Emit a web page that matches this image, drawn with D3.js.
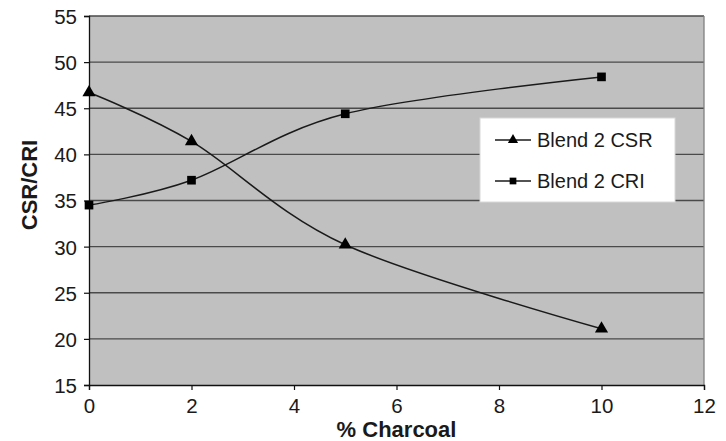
<!DOCTYPE html>
<html>
<head>
<meta charset="utf-8">
<script src="https://cdn.jsdelivr.net/npm/d3@7"></script>
<style>
  html, body { margin: 0; padding: 0; background: #fff; }
  svg { display: block; font-family: "Liberation Sans", Arial, sans-serif; }
</style>
</head>
<body>
<svg id="chart" width="726" height="441"></svg>
<script>
// Charcoal content (%) and the two measured coke properties
const charcoal = [0, 2, 5, 10];
const csr = [46.7, 41.4, 30.2, 21.1];
const cri = [34.5, 37.2, 44.4, 48.4];
const xTicks = [0, 2, 4, 6, 8, 10, 12];
const yTicks = [15, 20, 25, 30, 35, 40, 45, 50, 55];
const seriesNames = ["Blend 2 CSR", "Blend 2 CRI"];

const svg = d3.select("#chart");
const plot = { left: 89, top: 16, right: 704, bottom: 385 };

const x = d3.scaleLinear().domain([0, 12]).range([plot.left, plot.right]);
const y = d3.scaleLinear().domain([15, 55]).range([plot.bottom, plot.top]);

// plot background
svg.append("rect")
  .attr("x", plot.left).attr("y", plot.top)
  .attr("width", plot.right - plot.left).attr("height", plot.bottom - plot.top)
  .attr("fill", "#c0c0c0");

// horizontal gridlines
svg.append("g").selectAll("line")
  .data(yTicks.filter(d => d > 15))
  .join("line")
  .attr("x1", plot.left).attr("x2", plot.right)
  .attr("y1", d => y(d)).attr("y2", d => y(d))
  .attr("stroke", "#4a4a4a").attr("stroke-width", 1.3);

// right border of the plot area
svg.append("line")
  .attr("x1", plot.right).attr("x2", plot.right)
  .attr("y1", plot.top).attr("y2", plot.bottom)
  .attr("stroke", "#808080").attr("stroke-width", 1.3);

// axes
const xAxis = d3.axisBottom(x).tickValues(xTicks).tickSize(5).tickPadding(8);
const yAxis = d3.axisLeft(y).tickValues(yTicks).tickSize(5).tickPadding(7);

const gx = svg.append("g").attr("transform", `translate(0,${plot.bottom})`).call(xAxis);
const gy = svg.append("g").attr("transform", `translate(${plot.left},0)`).call(yAxis);
[gx, gy].forEach(g => {
  g.select(".domain").attr("stroke", "#111").attr("stroke-width", 1.3);
  g.selectAll(".tick line").attr("stroke", "#111").attr("stroke-width", 1.2);
  g.selectAll(".tick text")
    .attr("fill", "#1a1a1a")
    .style("font-family", "'Liberation Sans', Arial, sans-serif")
    .style("font-size", "20.5px");
});
gy.selectAll(".tick text").attr("dy", "0.36em");

// axis titles
svg.append("text")
  .attr("x", (plot.left + plot.right) / 2).attr("y", 437)
  .attr("text-anchor", "middle")
  .attr("font-size", 22).attr("font-weight", "bold").attr("fill", "#1a1a1a")
  .text("% Charcoal");

svg.append("text")
  .attr("transform", "translate(37,185) rotate(-90)")
  .attr("text-anchor", "middle")
  .attr("font-size", 22).attr("font-weight", "bold").attr("fill", "#1a1a1a")
  .text("CSR/CRI");

// smoothed series lines
const line = d3.line()
  .x(d => x(d[0])).y(d => y(d[1]))
  .curve(d3.curveCatmullRom.alpha(0));

const csrPts = charcoal.map((c, i) => [c, csr[i]]);
const criPts = charcoal.map((c, i) => [c, cri[i]]);

[csrPts, criPts].forEach(pts => {
  svg.append("path")
    .attr("d", line(pts))
    .attr("fill", "none")
    .attr("stroke", "#1a1a1a")
    .attr("stroke-width", 1.5);
});

const tri = d3.symbol().type(d3.symbolTriangle).size(75);
const sq = d3.symbol().type(d3.symbolSquare).size(75);

svg.append("g").selectAll("path")
  .data(csrPts).join("path")
  .attr("transform", d => `translate(${x(d[0])},${y(d[1])})`)
  .attr("d", tri).attr("fill", "#000");

svg.append("g").selectAll("path")
  .data(criPts).join("path")
  .attr("transform", d => `translate(${x(d[0])},${y(d[1])})`)
  .attr("d", sq).attr("fill", "#000");

// legend
const legend = svg.append("g");
legend.append("rect")
  .attr("x", 480).attr("y", 118).attr("width", 195).attr("height", 84)
  .attr("fill", "#fff").attr("stroke", "#d8d8d8").attr("stroke-width", 1);

const symbols = [d3.symbol().type(d3.symbolTriangle).size(45), d3.symbol().type(d3.symbolSquare).size(45)];
seriesNames.forEach((name, i) => {
  const cy = 140 + i * 41;
  legend.append("line")
    .attr("x1", 495).attr("x2", 531).attr("y1", cy).attr("y2", cy)
    .attr("stroke", "#1a1a1a").attr("stroke-width", 1.5);
  legend.append("path")
    .attr("transform", `translate(513,${cy})`)
    .attr("d", symbols[i]).attr("fill", "#000");
  legend.append("text")
    .attr("x", 537).attr("y", cy).attr("dy", "0.35em")
    .attr("font-size", 20).attr("fill", "#1a1a1a")
    .text(name);
});
</script>
</body>
</html>
